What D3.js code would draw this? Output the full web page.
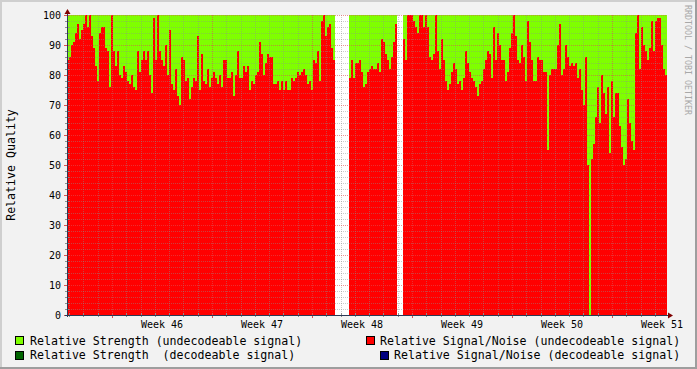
<!DOCTYPE html>
<html><head><meta charset="utf-8">
<script src="https://cdn.jsdelivr.net/npm/d3@7"></script>
<style>
html,body{margin:0;padding:0;background:#F2F2F2;}
svg{display:block;}
text{font-family:"DejaVu Sans Mono",monospace;}
</style></head><body>
<svg id="c" width="697" height="369"></svg>
<script>
// ---- data (one value per sample, equal time steps) ----
const snrUndecodeable = [
 85,86,90,91,94,97,92,95,97,100,
 96,100,93,89,83,78,94,96,96,89,
 88,76,100,88,83,88,80,79,83,81,
 78,77,80,76,75,88,81,85,88,85,
 88,80,74,99,85,100,88,85,83,90,
 80,95,77,75,82,73,70,86,85,78,
 79,72,76,79,78,93,75,87,78,77,
 82,76,79,81,79,77,80,76,85,85,
 79,79,81,73,80,88,
 79,79,83,81,83,75,78,77,80,81,
 91,87,80,84,87,86,86,77,77,78,
 75,78,75,78,75,75,79,78,79,81,
 80,81,82,80,77,78,75,85,84,88,
 78,98,100,93,96,97,89,85,
 null,null,null,null,null,null,null,
 79,85,79,84,84,85,81,76,77,81,
 82,83,82,82,84,81,92,91,87,85,
 82,86,91,97,
 null,null,null,
 92,85,100,100,100,98,96,94,100,100,
 96,100,96,86,85,87,100,88,82,92,
 85,78,75,77,81,84,82,77,78,75,
 79,88,84,
 81,79,78,76,73,77,78,82,85,
 88,87,79,96,85,94,90,85,85,78,
 81,89,94,100,93,85,84,90,86,78,
 98,91,85,78,78,86,85,85,81,81,
 55,
 80,82,82,82,90,97,80,82,90,
 86,83,84,83,84,79,82,75,70,86,
 50,0,52,57,66,76,64,80,74,67,
 76,54,78,66,74,74,63,56,50,52,
 72,64,58,55,94,100,82,96,90,88,
 85,89,98,88,98,99,99,90,82,80
];
const strengthUndecodeable = [
 100,100,100,100,100,100,100,100,100,100,
 100,100,100,100,100,100,100,100,100,100,
 100,100,100,100,100,100,100,100,100,100,
 100,100,100,100,100,100,100,100,100,100,
 100,100,100,100,100,100,100,100,100,100,
 100,100,100,100,100,100,100,100,100,100,
 100,100,100,100,100,100,100,100,100,100,
 100,100,100,100,100,100,100,100,100,100,
 100,100,100,100,100,100,100,100,100,100,
 100,100,100,100,100,100,100,100,100,100,
 100,100,100,100,100,100,100,100,100,100,
 100,100,100,100,100,100,100,100,100,100,
 100,100,100,100,100,100,100,100,100,100,
 100,100,100,100,
 null,null,null,null,null,null,null,
 100,100,100,100,100,100,100,100,100,100,
 100,100,100,100,100,100,100,100,100,100,
 100,100,100,100,
 null,null,null,
 100,100,100,100,100,100,100,100,100,100,
 100,100,100,100,100,100,100,100,100,100,
 100,100,100,100,100,100,100,100,100,100,
 100,100,100,100,100,100,100,100,100,100,
 100,100,100,100,100,100,100,100,100,100,
 100,100,100,100,100,100,100,100,100,100,
 100,100,100,100,100,100,100,100,100,100,
 100,100,100,100,100,100,100,100,100,100,
 100,100,100,100,100,100,100,100,100,100,
 100,100,100,100,100,100,100,100,100,100,
 100,100,100,100,100,100,100,100,100,100,
 100,100,100,100,100,100,100,100,100,100,
 100,100,100,100,100,100,100,100,100,100,
 100,100
];
const strengthDecodeable = [];
const snrDecodeable = [];
const yTickValues = [0,10,20,30,40,50,60,70,80,90,100];
const weekLabels = ["Week 46","Week 47","Week 48","Week 49","Week 50","Week 51"];
const legendItems = [
  {label:"Relative Strength (undecodeable signal)", color:"#7FFF00"},
  {label:"Relative Signal/Noise (undecodeable signal)", color:"#FF0000"},
  {label:"Relative Strength  (decodeable signal)", color:"#006400"},
  {label:"Relative Signal/Noise (decodeable signal)", color:"#000080"}
];
const yTitle = "Relative Quality";
const watermark = "RRDTOOL / TOBI OETIKER";
const startTime = Date.UTC(2012, 10, 8, 20, 24);
const spanDays = 42;

// ---- layout ----
const svg = d3.select("#c");
const L = 67, T = 15, PW = 600, PH = 300;
const endTime = startTime + spanDays*864e5;
const stepMs = (endTime - startTime) / snrUndecodeable.length;
const x = d3.scaleUtc().domain([new Date(startTime), new Date(endTime)]).range([L, L+PW]);
const y = d3.scaleLinear().domain([0,100]).range([T+PH, T]);

// background + frame
svg.append("rect").attr("width",697).attr("height",369).attr("fill","#F2F2F2");
svg.append("rect").attr("x",0).attr("y",0).attr("width",697).attr("height",2).attr("fill","#CFCFCF");
svg.append("rect").attr("x",0).attr("y",0).attr("width",2).attr("height",369).attr("fill","#CFCFCF");
svg.append("rect").attr("x",0).attr("y",367).attr("width",697).attr("height",2).attr("fill","#9E9E9E");
svg.append("rect").attr("x",695).attr("y",0).attr("width",2).attr("height",369).attr("fill","#9E9E9E");

// canvas
svg.append("rect").attr("x",L).attr("y",T).attr("width",PW).attr("height",PH).attr("fill","#FFFFFF");

const samples = snrUndecodeable.map((v,i)=>({
  t0:new Date(startTime+i*stepMs), t1:new Date(startTime+(i+1)*stepMs),
  snr:v, str:strengthUndecodeable[i]
}));
const g = svg.append("g").attr("shape-rendering","crispEdges");
g.selectAll("rect.str").data(samples.filter(d=>d.str!=null)).join("rect")
  .attr("x",d=>x(d.t0)).attr("width",d=>x(d.t1)-x(d.t0))
  .attr("y",d=>y(d.str)).attr("height",d=>y(0)-y(d.str)).attr("fill","#7FFF00");
g.selectAll("rect.snr").data(samples.filter(d=>d.snr!=null)).join("rect")
  .attr("x",d=>x(d.t0)).attr("width",d=>x(d.t1)-x(d.t0))
  .attr("y",d=>y(d.snr)).attr("height",d=>y(0)-y(d.snr)).attr("fill","#FF0000");

// grid
const minorCol = "rgba(143,143,143,0.45)", majorCol = "rgba(222,79,79,0.6)";
const grid = svg.append("g").attr("shape-rendering","crispEdges");
const days = d3.utcDay.range(x.domain()[0], x.domain()[1]);
const mondays = d3.utcMonday.range(x.domain()[0], x.domain()[1]);
const isMonday = d => d.getUTCDay()===1;
grid.selectAll("line.vmin").data(days.filter(d=>!isMonday(d))).join("line")
  .attr("x1",d=>Math.round(x(d))+0.5).attr("x2",d=>Math.round(x(d))+0.5)
  .attr("y1",T).attr("y2",T+PH).attr("stroke",minorCol).attr("stroke-dasharray","1,1");
grid.selectAll("line.vmaj").data(mondays).join("line")
  .attr("x1",d=>Math.round(x(d))+0.5).attr("x2",d=>Math.round(x(d))+0.5)
  .attr("y1",T).attr("y2",T+PH).attr("stroke",majorCol).attr("stroke-dasharray","1,1");
const hVals = d3.range(2,101,2);
grid.selectAll("line.h").data(hVals).join("line")
  .attr("x1",L).attr("x2",L+PW)
  .attr("y1",d=>Math.round(y(d))+0.5).attr("y2",d=>Math.round(y(d))+0.5)
  .attr("stroke",d=>d%10===0?majorCol:minorCol).attr("stroke-dasharray","1,1");

// ticks
grid.selectAll("line.tx").data(days).join("line")
  .attr("x1",d=>Math.round(x(d))+0.5).attr("x2",d=>Math.round(x(d))+0.5)
  .attr("y1",T+PH-2).attr("y2",d=>T+PH+(isMonday(d)?3:2))
  .attr("stroke",d=>isMonday(d)?"#DE4F4F":"#8F8F8F");
grid.selectAll("line.ty").data(hVals.concat([0])).join("line")
  .attr("x1",d=>d%10===0?L-3:L-2).attr("x2",L+2)
  .attr("y1",d=>Math.round(y(d))+0.5).attr("y2",d=>Math.round(y(d))+0.5)
  .attr("stroke",d=>d%10===0?"#DE4F4F":"#8F8F8F");

// axes
const axisCol = "#2C3A55";
svg.append("line").attr("x1",L-2).attr("x2",L+PW+3).attr("y1",T+PH+0.5).attr("y2",T+PH+0.5)
  .attr("stroke",axisCol).attr("shape-rendering","crispEdges");
svg.append("line").attr("x1",L+0.5).attr("x2",L+0.5).attr("y1",T+PH+2).attr("y2",T-3)
  .attr("stroke",axisCol).attr("shape-rendering","crispEdges");
svg.append("path").attr("d",`M${L+0.5},${T-6} L${L-2.5},${T-1} L${L+3.5},${T-1} Z`).attr("fill","#7F0000");
svg.append("path").attr("d",`M${L+PW+6},${T+PH+0.5} L${L+PW+1},${T+PH-2.5} L${L+PW+1},${T+PH+3.5} Z`).attr("fill","#7F0000");

// y labels
svg.selectAll("text.yl").data(yTickValues).join("text")
  .attr("x",61).attr("y",d=>y(d)+4.3).attr("text-anchor","end")
  .attr("font-size","10px").attr("fill","#000").text(d=>d);
// x labels
svg.selectAll("text.xl").data(mondays).join("text")
  .attr("x",d=>x(new Date(d.getTime()+3.5*864e5))).attr("y",328)
  .attr("text-anchor","middle").attr("font-size","10px").attr("fill","#000")
  .text((d,i)=>weekLabels[i]);

// y title
svg.append("text").attr("transform","translate(15,165) rotate(-90)")
  .attr("text-anchor","middle").attr("font-size","11.6px").attr("fill","#000").text(yTitle);
// watermark
svg.append("text").attr("transform","translate(684.5,5) rotate(90)")
  .attr("font-size","8.3px").attr("fill","#A8A8A8").text(watermark);

// legend
const legPos = [
  {bx:15, by:336, tx:30, ty:345},
  {bx:366, by:336, tx:380, ty:345},
  {bx:15, by:351, tx:30, ty:359},
  {bx:380, by:351, tx:394, ty:359}
];
const lg = svg.append("g");
legendItems.forEach((it,i)=>{
  const p = legPos[i];
  lg.append("rect").attr("x",p.bx+0.5).attr("y",p.by+0.5).attr("width",8).attr("height",8)
    .attr("fill",it.color).attr("stroke","#000").attr("shape-rendering","crispEdges");
  lg.append("text").attr("x",p.tx).attr("y",p.ty).attr("font-size","11.6px").attr("fill","#000")
    .attr("xml:space","preserve").style("white-space","pre").text(it.label);
});
</script>
</body></html>
